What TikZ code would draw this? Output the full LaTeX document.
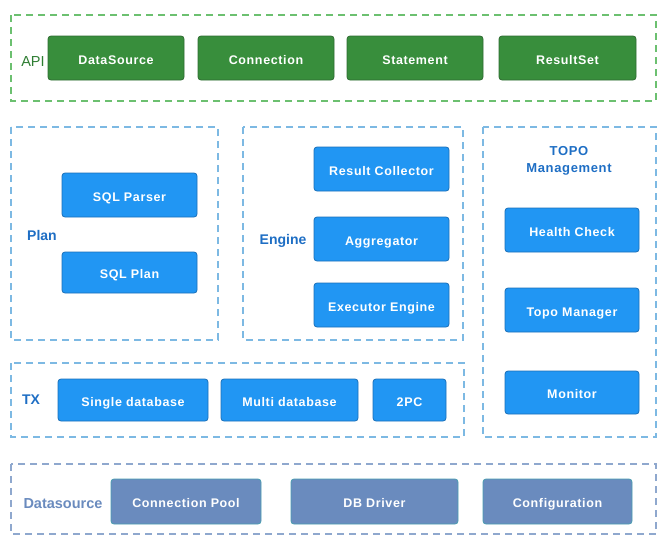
\documentclass[tikz,border=0pt]{standalone}
\usepackage{fontspec}
\setmainfont{Liberation Sans}
\newfontfamily\boxfont[LetterSpace=5]{Liberation Sans}
\definecolor{gfill}{HTML}{388E3C}
\definecolor{gdraw}{HTML}{2E6B31}
\definecolor{gdash}{HTML}{6CC070}
\definecolor{gtext}{HTML}{2E7D32}
\definecolor{bfill}{HTML}{2196F3}
\definecolor{bdraw}{HTML}{1A6FB8}
\definecolor{bdash}{HTML}{7DB9E3}
\definecolor{btext}{HTML}{1E6EC4}
\definecolor{dfill}{HTML}{6A8BBE}
\definecolor{ddraw}{HTML}{4A9DB0}
\definecolor{ddash}{HTML}{8FA8CE}
\definecolor{dtext}{HTML}{6A8BBE}
\tikzset{
  x=1pt, y=-1pt,
  basebox/.style={rounded corners=3pt, line width=0.8pt, text=white,
    font=\boxfont\bfseries\fontsize{12.5}{15}\selectfont, inner sep=0pt,
    text height=12pt, text depth=0pt},
  gbox/.style={basebox, fill=gfill, draw=gdraw},
  bbox/.style={basebox, fill=bfill, draw=bdraw},
  dbox/.style={basebox, fill=dfill, draw=ddraw},
  frame/.style={line width=1.1pt, dash pattern=on 7pt off 5pt},
  blabel/.style={text=btext, font=\bfseries\fontsize{14}{16}\selectfont, align=center}
}
\newcommand{\bx}[7]{% style, name, x1, y1, x2, y2, text
  \node[#1, minimum width={#5-#3}, minimum height={#6-#4}] (#2) at ({(#3+#5)/2},{(#4+#6)/2}) {#7};}
\begin{document}
\begin{tikzpicture}
\useasboundingbox (0,0) rectangle (672,549);
% frames
\draw[frame, draw=gdash] (11,15) rectangle (656,101);
\draw[frame, draw=bdash] (11,127) rectangle (218,340);
\draw[frame, draw=bdash] (243,127) rectangle (463,340);
\draw[frame, draw=bdash] (483,127) rectangle (656,437);
\draw[frame, draw=bdash] (11,363) rectangle (464,437);
\draw[frame, draw=ddash] (11,464) rectangle (656,534);
% API
\node[text=gtext, font=\fontsize{14.5}{16}\selectfont] (apil) at (33,62) {API};
\bx{gbox}{ds}{48}{36}{184}{80}{DataSource}
\bx{gbox}{conn}{198}{36}{334}{80}{Connection}
\bx{gbox}{stmt}{347}{36}{483}{80}{Statement}
\bx{gbox}{rs}{499}{36}{636}{80}{ResultSet}
% Plan
\node[blabel] (planl) at (42,235) {Plan};
\bx{bbox}{parser}{62}{173}{197}{217}{SQL Parser}
\bx{bbox}{sqlplan}{62}{252}{197}{293}{SQL Plan}
% Engine
\node[blabel] (engl) at (283,241) {Engine};
\bx{bbox}{rc}{314}{147}{449}{191}{Result Collector}
\bx{bbox}{agg}{314}{217}{449}{261}{Aggregator}
\bx{bbox}{exe}{314}{283}{449}{327}{Executor Engine}
% TOPO
\node[blabel, font=\boxfont\bfseries\fontsize{13}{17}\selectfont] (topol) at (569,161) {TOPO\\Management};
\bx{bbox}{hc}{505}{208}{639}{252}{Health Check}
\bx{bbox}{tm}{505}{288}{639}{332}{Topo Manager}
\bx{bbox}{mon}{505}{371}{639}{414}{Monitor}
% TX
\node[blabel] (txl) at (31,400) {TX};
\bx{bbox}{single}{58}{379}{208}{421}{Single database}
\bx{bbox}{multi}{221}{379}{358}{421}{Multi database}
\bx{bbox}{pc}{373}{379}{446}{421}{2PC}
% Datasource
\node[blabel, text=dtext, font=\bfseries\fontsize{14.5}{16}\selectfont] (dsl) at (63,504) {Datasource};
\bx{dbox}{pool}{111}{479}{261}{524}{Connection Pool}
\bx{dbox}{drv}{291}{479}{458}{524}{DB Driver}
\bx{dbox}{cfg}{483}{479}{632}{524}{Configuration}
\end{tikzpicture}
\end{document}
